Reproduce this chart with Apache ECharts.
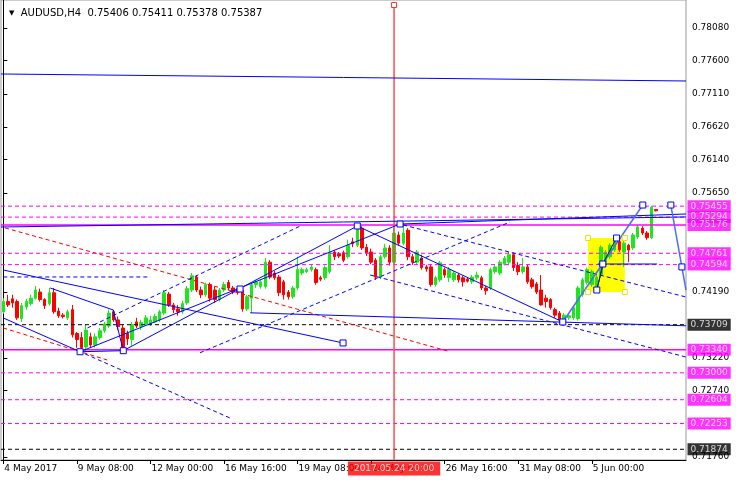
<!DOCTYPE html>
<html><head><meta charset="utf-8">
<script src="https://cdn.jsdelivr.net/npm/echarts@6/dist/echarts.min.js"></script>
<style>html,body{margin:0;padding:0;background:#fff}#c{width:736px;height:480px}</style>
</head><body><div id="c"></div><script>
const symbolName = 'AUDUSD,H4';
const lastBar = [0.75406, 0.75411, 0.75378, 0.75387];

const opens = [0.7390,0.7405,0.7409,0.7405,0.7380,0.7397,0.7402,0.7410,0.7419,0.7408,
0.7402,0.7418,0.7391,0.7385,0.7381,0.7393,0.7358,0.7352,0.7338,0.7353,
0.7341,0.7352,0.7362,0.7369,0.7390,0.7378,0.7366,0.7358,0.7349,0.7375,
0.7368,0.7372,0.7372,0.7375,0.7378,0.7388,0.7416,0.7400,0.7394,0.7390,
0.7403,0.7422,0.7441,0.7422,0.7415,0.7430,0.7422,0.7408,0.7422,0.7433,
0.7425,0.7424,0.7422,0.7394,0.7410,0.7430,0.7427,0.7427,0.7463,0.7447,
0.7441,0.7434,0.7419,0.7412,0.7425,0.7447,0.7449,0.7452,0.7452,0.7440,
0.7440,0.7449,0.7478,0.7475,0.7477,0.7471,0.7493,0.7488,0.7513,0.7485,
0.7478,0.7466,0.7441,0.7471,0.7484,0.7463,0.7503,0.7491,0.7510,0.7471,
0.7463,0.7469,0.7456,0.7456,0.7430,0.7437,0.7452,0.7440,0.7437,0.7444,
0.7440,0.7438,0.7434,0.7440,0.7440,0.7425,0.7425,0.7449,0.7447,0.7460,
0.7463,0.7474,0.7458,0.7449,0.7456,0.7437,0.7431,0.7422,0.7410,0.7408,
0.7393,0.7388,0.7377,0.7381,0.7381,0.7380,0.7415,0.7433,0.7430,0.7422,
0.7444,0.7463,0.7471,0.7481,0.7493,0.7478,0.7488,0.7484,0.7500,0.7513,
0.7506,0.7499,0.75406];
const closes = [0.7405,0.7400,0.7403,0.7381,0.7399,0.7405,0.7410,0.7422,0.7408,0.7399,
0.7418,0.7390,0.7384,0.7383,0.7390,0.7356,0.7349,0.7337,0.7363,0.7341,
0.7353,0.7362,0.7372,0.7388,0.7378,0.7368,0.7338,0.7350,0.7371,0.7369,
0.7374,0.7381,0.7378,0.7383,0.7390,0.7418,0.7400,0.7393,0.7390,0.7402,
0.7424,0.7443,0.7422,0.7415,0.7430,0.7410,0.7408,0.7422,0.7430,0.7425,
0.7419,0.7419,0.7394,0.7412,0.7430,0.7434,0.7434,0.7463,0.7441,0.7440,
0.7418,0.7415,0.7412,0.7425,0.7452,0.7452,0.7452,0.7456,0.7433,0.7438,
0.7455,0.7477,0.7471,0.7472,0.7466,0.7488,0.7490,0.7513,0.7484,0.7477,
0.7463,0.7441,0.7471,0.7484,0.7463,0.7506,0.7491,0.7506,0.7471,0.7463,
0.7478,0.7455,0.7453,0.7430,0.7440,0.7462,0.7444,0.7452,0.7447,0.7437,
0.7434,0.7435,0.7441,0.7444,0.7425,0.7421,0.7452,0.7456,0.7463,0.7469,
0.7474,0.7455,0.7449,0.7456,0.7434,0.7427,0.7419,0.7400,0.7405,0.7396,
0.7385,0.7378,0.7385,0.7384,0.7396,0.7425,0.7437,0.7452,0.7449,0.7441,
0.7485,0.7478,0.7488,0.7499,0.7481,0.7491,0.7481,0.7503,0.7515,0.7506,
0.7499,0.7544,0.75387];
const lows = [0.7387,0.7397,0.7396,0.7378,0.7375,0.7393,0.7399,0.7408,0.7405,0.7394,
0.7399,0.7387,0.7381,0.7380,0.7378,0.7352,0.7337,0.7330,0.7331,0.7337,
0.7337,0.7349,0.7359,0.7366,0.7375,0.7363,0.7331,0.7341,0.7340,0.7366,
0.7363,0.7369,0.7369,0.7374,0.7375,0.7385,0.7397,0.7388,0.7384,0.7387,
0.7400,0.7419,0.7419,0.7410,0.7412,0.7405,0.7403,0.7405,0.7419,0.7422,
0.7416,0.7415,0.7390,0.7391,0.7388,0.7425,0.7424,0.7424,0.7438,0.7437,
0.7413,0.7408,0.7408,0.7409,0.7422,0.7444,0.7447,0.7449,0.7430,0.7435,
0.7437,0.7446,0.7466,0.7469,0.7463,0.7468,0.7485,0.7485,0.7481,0.7472,
0.7460,0.7437,0.7438,0.7468,0.7458,0.7459,0.7487,0.7488,0.7466,0.7459,
0.7460,0.7452,0.7449,0.7427,0.7427,0.7434,0.7440,0.7434,0.7434,0.7433,
0.7427,0.7433,0.7431,0.7437,0.7422,0.7415,0.7422,0.7446,0.7444,0.7458,
0.7460,0.7450,0.7444,0.7446,0.7431,0.7424,0.7416,0.7399,0.7396,0.7393,
0.7381,0.7371,0.7374,0.7378,0.7378,0.7377,0.7412,0.7430,0.7427,0.7419,
0.7440,0.7460,0.7468,0.7478,0.7478,0.7456,0.7463,0.7481,0.7497,0.7503,
0.7496,0.7497,0.75378];
const highs = [0.7410,0.7415,0.7415,0.7408,0.7403,0.7409,0.7415,0.7428,0.7424,0.7410,
0.7425,0.7425,0.7396,0.7388,0.7393,0.7400,0.7360,0.7360,0.7371,0.7359,
0.7358,0.7366,0.7375,0.7393,0.7393,0.7383,0.7371,0.7362,0.7375,0.7381,
0.7378,0.7385,0.7384,0.7387,0.7393,0.7422,0.7419,0.7403,0.7400,0.7406,
0.7428,0.7447,0.7444,0.7427,0.7433,0.7433,0.7427,0.7425,0.7434,0.7437,
0.7428,0.7428,0.7427,0.7415,0.7433,0.7437,0.7437,0.7469,0.7466,0.7450,
0.7444,0.7437,0.7422,0.7428,0.7471,0.7455,0.7455,0.7460,0.7455,0.7443,
0.7458,0.7488,0.7481,0.7478,0.7480,0.7496,0.7499,0.7518,0.7516,0.7490,
0.7483,0.7469,0.7474,0.7490,0.7488,0.7513,0.7508,0.7520,0.7513,0.7475,
0.7481,0.7474,0.7459,0.7459,0.7443,0.7465,0.7455,0.7456,0.7450,0.7447,
0.7443,0.7441,0.7444,0.7449,0.7443,0.7428,0.7455,0.7459,0.7466,0.7472,
0.7478,0.7477,0.7463,0.7469,0.7459,0.7440,0.7434,0.7444,0.7415,0.7410,
0.7396,0.7391,0.7388,0.7387,0.7399,0.7428,0.7440,0.7455,0.7452,0.7444,
0.7488,0.7481,0.7491,0.7502,0.7496,0.7494,0.7490,0.7506,0.7518,0.7516,
0.7509,0.7546,0.75411];

const tickLabels = ['4 May 2017','9 May 08:00','12 May 00:00','16 May 16:00','19 May 08:00','24 May 00:00','26 May 16:00','31 May 08:00','5 Jun 00:00'];
const priceTicks = [0.78080,0.77600,0.77110,0.76620,0.76140,0.75650,0.74190,0.73220,0.72740,0.71760];
const magentaDashedLevels = [0.75455,0.75294,0.74761,0.74594,0.73000,0.72604,0.72253];
const magentaSolidLevels = [0.75176,0.73340];
const blackDashedLevels = [0.73709,0.71874];
const cursorBar = 85;
const cursorTop = 0.78418;
const cursorLabel = '2017.05.24 20:00';

const blueSolidLines = [
 [[-0.5,0.77402],[148.5,0.77299]],
 [[-0.5,0.75148],[148.5,0.75296]],
 [[86.3,0.75192],[148.5,0.75340]],
 [[0,0.74515],[73.9,0.73440]],
 [[0,0.73808],[16.7,0.73311]],
 [[16.7,0.73311],[26.1,0.73326]],
 [[10.2,0.74250],[23.9,0.73926],[26.1,0.73326]],
 [[26.1,0.73326],[77,0.75163]],
 [[16.7,0.73311],[86.3,0.75192]],
 [[77,0.75163],[121.7,0.73749]],
 [[53.7,0.73884],[148.5,0.73693]],
 [[129.3,0.74603],[142.2,0.74603]],
 [[129.1,0.74220],[130.4,0.74603]]
];
const lightBlueLines = [
 [[121.7,0.73749],[139.1,0.75472]],
 [[145.2,0.75472],[147.6,0.74560],[148.5,0.74220]]
];
const blueDashedLines = [
 [[18.3,0.73661],[64.6,0.75163]],
 [[42.8,0.73296],[110.2,0.75222]],
 [[87,0.75178],[148.5,0.74117]],
 [[79.8,0.74441],[148.5,0.73233]],
 [[17.8,0.73278],[49.3,0.72335]],
 [[0,0.74412],[32,0.74412]]
];
const redDashedLines = [
 [[0.4,0.75134],[97.2,0.73311]],
 [[0,0.73661],[22.6,0.73189]]
];
const blackLines = [[[129.1,0.74220],[130.6,0.74633],[133.4,0.74986]]];
const anchorPoints = [[16.7,0.73311],[26.1,0.73326],[51.5,0.74235],[73.9,0.73440],[77,0.75163],[86.3,0.75192],
 [121.7,0.73749],[139.1,0.75472],[145.2,0.75472],[147.6,0.74560],[130.4,0.74603],[133.4,0.74986],[129.1,0.74220]];
const yellowBox = [[127.2,0.74986],[135.2,0.74191]];

const slotCount = 149;
const tickStep = 16;
const yMin = 0.71716, yMax = 0.78492;
const categories = Array.from({length: slotCount}, (_, k) => String(k));
const FONT = 'DejaVu Sans';
const xL = -0.5, xR = slotCount - 0.5;

const candleData = opens.map((o, k) => [o, closes[k], lows[k], highs[k]]);

function linesSeries(list, color, type, width, z) {
  return {
    type: 'lines', coordinateSystem: 'cartesian2d', xAxisIndex: 1, yAxisIndex: 0,
    polyline: true, z: z, silent: true,
    lineStyle: {color: color, type: type, width: width, opacity: 1},
    data: list.map(c => ({coords: c}))
  };
}
const levelCoords = arr => arr.map(v => [[xL, v], [xR, v]]);

function priceTagSeries(levels, bg) {
  return {
    type: 'scatter', xAxisIndex: 1, yAxisIndex: 0, z: 6, silent: true, clip: false,
    symbol: 'circle', symbolSize: 1, itemStyle: {color: 'rgba(0,0,0,0)'},
    data: levels.map(v => [xR, v]),
    label: {show: true, position: 'right', distance: 1,
      formatter: p => p.value[1].toFixed(5),
      backgroundColor: bg, color: '#fff', fontFamily: FONT, fontSize: 9,
      padding: [1, 3, 1, 3], lineHeight: 10}
  };
}

const chart = echarts.init(document.getElementById('c'), null, {renderer: 'canvas'});
chart.setOption({
  animation: false,
  backgroundColor: '#ffffff',
  title: {
    left: 4, top: 3,
    text: '{t|▼}  ' + symbolName + '  ' + lastBar.map(v => v.toFixed(5)).join(' '),
    textStyle: {fontFamily: FONT, fontSize: 10, fontWeight: 'normal', color: '#000',
      rich: {t: {fontSize: 7, color: '#000', fontFamily: FONT}}}
  },
  grid: {left: 1, right: 50, top: 0, bottom: 20, show: true, borderColor: '#999', borderWidth: 1},
  xAxis: [{
    type: 'category', data: categories, boundaryGap: true,
    axisLine: {show: true, lineStyle: {color: '#000', width: 1}},
    axisTick: {show: true, alignWithLabel: true, length: 4, lineStyle: {color: '#000'},
      interval: (i) => i % tickStep === 0 && i / tickStep < tickLabels.length},
    axisLabel: {show: true, interval: (i) => i % tickStep === 0 && i / tickStep < tickLabels.length,
      formatter: (val, i) => (i % tickStep === 0 ? (tickLabels[i / tickStep] || '') : ''),
      align: 'left', padding: [0, 0, 0, 1], margin: 4, color: '#000', fontFamily: FONT, fontSize: 9},
    splitLine: {show: false}
  }, {
    type: 'value', min: xL, max: xR, show: false
  }],
  yAxis: [{
    type: 'value', position: 'right', min: yMin, max: yMax,
    axisLine: {show: true, lineStyle: {color: '#000', width: 1}},
    axisTick: {show: true, length: 4, lineStyle: {color: '#000'}, customValues: priceTicks},
    axisLabel: {show: true, customValues: priceTicks, formatter: v => v.toFixed(5), margin: 6,
      color: '#000', fontFamily: FONT, fontSize: 9},
    splitLine: {show: false}
  }],
  series: [
    {
      type: 'line', xAxisIndex: 1, yAxisIndex: 0, data: [], z: 1, silent: true,
      markArea: {silent: true, z: 1, itemStyle: {color: '#ffff00', opacity: 1},
        data: [[{coord: yellowBox[0]}, {coord: yellowBox[1]}]]}
    },
    {
      type: 'candlestick', xAxisIndex: 0, yAxisIndex: 0, data: candleData, z: 2,
      barWidth: 3, silent: true,
      itemStyle: {color: '#1ee61e', color0: '#ff0000', borderColor: '#1ee61e', borderColor0: '#ff0000', borderWidth: 1}
    },
    linesSeries(levelCoords(magentaDashedLevels), '#ff00ff', [4, 3], 1, 3),
    linesSeries(levelCoords(magentaSolidLevels), '#ff00ff', 'solid', 1.5, 3),
    linesSeries(levelCoords(blackDashedLevels), '#000000', [4, 3], 1, 3),
    linesSeries([[[cursorBar, yMin], [cursorBar, cursorTop]]], '#ff4a4a', 'solid', 1.5, 3),
    linesSeries(redDashedLines, '#ff0000', [4, 3], 1, 3),
    linesSeries(blueDashedLines, '#0000ff', [4, 3], 1, 3),
    linesSeries(blueSolidLines, '#0000ff', 'solid', 1, 3),
    linesSeries(lightBlueLines, '#4f6bff', 'solid', 1.5, 3),
    linesSeries(blackLines, '#222222', 'solid', 1, 3),
    {
      type: 'scatter', xAxisIndex: 1, yAxisIndex: 0, z: 4, silent: true,
      symbol: 'rect', symbolSize: 6,
      itemStyle: {color: '#ffffff', borderColor: '#0000ff', borderWidth: 1, opacity: 1},
      data: anchorPoints
    },
    {
      type: 'scatter', xAxisIndex: 1, yAxisIndex: 0, z: 4, silent: true,
      symbol: 'rect', symbolSize: 5,
      itemStyle: {color: '#ffffff', borderColor: '#ff3030', borderWidth: 1, opacity: 1},
      data: [[cursorBar, cursorTop]]
    },
    {
      type: 'scatter', xAxisIndex: 1, yAxisIndex: 0, z: 4, silent: true,
      symbol: 'rect', symbolSize: 5,
      itemStyle: {color: '#ffffff', borderColor: '#e6e600', borderWidth: 1, opacity: 1},
      data: [[yellowBox[0][0], yellowBox[0][1]], [yellowBox[1][0], yellowBox[0][1]],
             [yellowBox[0][0], yellowBox[1][1]], [yellowBox[1][0], yellowBox[1][1]]]
    },
    priceTagSeries(magentaDashedLevels.concat(magentaSolidLevels), '#ff00ff'),
    priceTagSeries(blackDashedLevels, '#000000'),
    {
      type: 'scatter', xAxisIndex: 1, yAxisIndex: 0, z: 6, silent: true, clip: false,
      symbol: 'circle', symbolSize: 1, itemStyle: {color: 'rgba(0,0,0,0)'},
      data: [[cursorBar, yMin]],
      label: {show: true, position: 'bottom', distance: 1, formatter: cursorLabel,
        backgroundColor: '#ff0000', color: '#fff', fontFamily: FONT, fontSize: 9, padding: [3, 6, 2, 6]}
    }
  ]
});
</script></body></html>
